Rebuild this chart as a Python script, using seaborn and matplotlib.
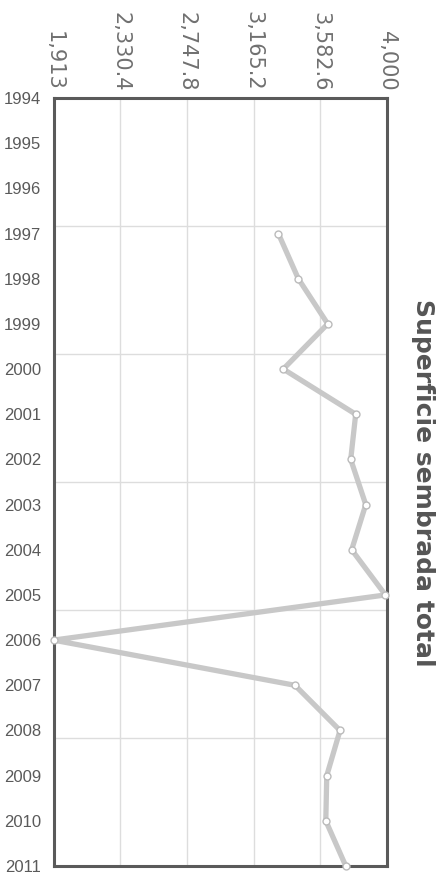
import numpy as np
import pandas as pd
import matplotlib
matplotlib.use("Agg")
import matplotlib.pyplot as plt
import seaborn as sns

# ---- data ----
years = [1997, 1998, 1999, 2000, 2001, 2002, 2003, 2004,
         2005, 2006, 2007, 2008, 2009, 2010, 2011]
superficie = [3320, 3445, 3629, 3351, 3804, 3773, 3867, 3779,
              3990, 1913, 3424, 3706, 3623, 3617, 3742]
value_ticks = [1913, 2330.4, 2747.8, 3165.2, 3582.6, 4000]
value_tick_labels = ["1,913", "2,330.4", "2,747.8", "3,165.2", "3,582.6", "4,000"]
year_ticks = list(range(1994, 2012))
title = "Superficie sembrada total"

df = pd.DataFrame({"year": years, "value": superficie})

sns.set_theme(style="white")
plt.rcParams["font.family"] = ["DejaVu Sans"]

fig = plt.figure(figsize=(4.47, 8.74), dpi=100)
ax = fig.add_axes([53.5 / 447, 8 / 874, 333.5 / 447, 768 / 874])

# grid
for v in value_ticks[1:-1]:
    ax.axvline(v, color="#dddddd", lw=1.0, zorder=0)
for k in range(1, 6):
    ax.axhline(1994 + k * 17 / 6, color="#dddddd", lw=1.0, zorder=0)

sns.lineplot(data=df, x="value", y="year", sort=False, ax=ax,
             color="#c8c8c8", lw=3.8, marker="o", markersize=5,
             markerfacecolor="white", markeredgecolor="#bbbbbb",
             markeredgewidth=1.0, zorder=3, clip_on=False)

ax.set_xlim(1913, 4000)
ax.set_ylim(2011, 1994)
ax.xaxis.tick_top()
ax.set_xticks(value_ticks)
ax.set_xticklabels(value_tick_labels, rotation=-90, color="#707070",
                   fontsize=15)
ax.set_yticks(year_ticks)
ax.set_yticklabels([str(y) for y in year_ticks], color="#5a5a5a",
                   fontsize=12, family=["Liberation Sans", "DejaVu Sans"])
ax.tick_params(axis="x", length=0, pad=5)
ax.tick_params(axis="y", length=0, pad=9)
ax.set_xlabel("")
ax.set_ylabel("")
ax.grid(False)
for s in ax.spines.values():
    s.set_color("#5a5a5a")
    s.set_linewidth(2.2)

fig.text(423 / 447, (874 - 482.5) / 874, title, rotation=-90,
         ha="center", va="center", fontsize=18, fontweight="bold",
         color="#555555")

fig.savefig("out.png", dpi=100)
